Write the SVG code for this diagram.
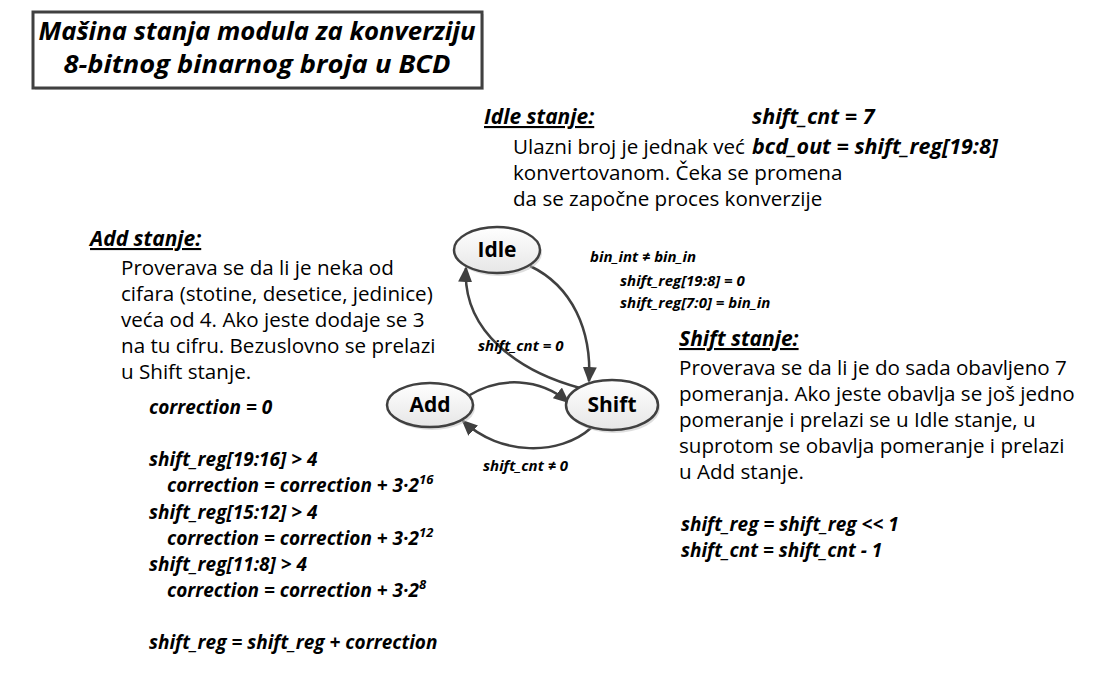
<svg xmlns="http://www.w3.org/2000/svg" width="1096" height="698" viewBox="0 0 1096 698">
<defs>
<linearGradient id="nodeFill" x1="0" y1="0" x2="0" y2="1">
<stop offset="0" stop-color="#ffffff"/>
<stop offset="1" stop-color="#e6e6e6"/>
</linearGradient>
<marker id="arrow" markerUnits="userSpaceOnUse" markerWidth="16" markerHeight="14" refX="14" refY="7" orient="auto">
<path d="M0,0 L16,7 L0,14 z" fill="#404040"/>
</marker>
<style>
text{font-family:"Open Sans","Liberation Sans",sans-serif;fill:#000}
.body{font-size:20.6px}
.hdr{font-size:21px;font-weight:bold;font-style:italic;text-decoration:underline}
.fx{font-size:19px;font-weight:bold;font-style:italic}
.fx2{font-size:21.5px;font-weight:bold;font-style:italic}
.lbl{font-size:15px;font-weight:bold;font-style:italic}
.node ellipse{fill:url(#nodeFill);stroke:#404040;stroke-width:2.5}
.node .sh{fill:#bdbdbd;stroke:none;opacity:0.5}
.node text{font-size:21px;font-weight:bold;text-anchor:middle}
.conn path{fill:none;stroke:#404040;stroke-width:2.5;marker-end:url(#arrow)}
</style>
</defs>
<rect width="1096" height="698" fill="#ffffff"/>

<g id="title">
<rect x="35" y="14" width="449" height="76" fill="#bdbdbd" opacity="0.5"/>
<rect x="33" y="12" width="449" height="76" fill="#ffffff" stroke="#404040" stroke-width="3"/>
<text x="257" y="40" text-anchor="middle" font-size="25" font-weight="bold" font-style="italic" textLength="437" lengthAdjust="spacingAndGlyphs">Mašina stanja modula za konverziju</text>
<text x="257" y="73" text-anchor="middle" font-size="25" font-weight="bold" font-style="italic" textLength="387" lengthAdjust="spacingAndGlyphs">8-bitnog binarnog broja u BCD</text>
</g>

<g id="connectors" class="conn">
<path d="M530,266 C572,286 592,330 589,381"/>
<path d="M580,388 C520,372 462,332 466,268"/>
<path d="M468,396 C500,376 540,378 568,402"/>
<path d="M591,428 C560,456 500,456 463,421"/>
</g>

<g id="node-idle" class="node">
<ellipse class="sh" cx="499" cy="253" rx="43" ry="23"/>
<ellipse cx="497" cy="250" rx="43" ry="23"/>
<text x="497" y="257">Idle</text>
</g>
<g id="node-add" class="node">
<ellipse class="sh" cx="432" cy="408" rx="43" ry="22"/>
<ellipse cx="430" cy="405" rx="43" ry="22"/>
<text x="430" y="412">Add</text>
</g>
<g id="node-shift" class="node">
<ellipse class="sh" cx="614" cy="408" rx="46" ry="25"/>
<ellipse cx="612" cy="405" rx="46" ry="25"/>
<text x="612" y="412">Shift</text>
</g>

<g id="labels">
<text class="lbl" x="590" y="262">bin_int ≠ bin_in</text>
<text class="lbl" x="620" y="286">shift_reg[19:8] = 0</text>
<text class="lbl" x="620" y="308">shift_reg[7:0] = bin_in</text>
<text class="lbl" x="478" y="351">shift_cnt = 0</text>
<text class="lbl" x="483" y="471">shift_cnt ≠ 0</text>
</g>

<g id="idle-desc">
<text class="hdr" x="484" y="124">Idle stanje:</text>
<text class="body" x="513" y="154">Ulazni broj je jednak već</text>
<text class="body" x="513" y="180">konvertovanom. Čeka se promena</text>
<text class="body" x="513" y="206">da se započne proces konverzije</text>
<text class="fx2" x="752" y="124">shift_cnt = 7</text>
<text class="fx2" x="752" y="154">bcd_out = shift_reg[19:8]</text>
</g>

<g id="add-desc">
<text class="hdr" x="90" y="246">Add stanje:</text>
<text class="body" x="121" y="275">Proverava se da li je neka od</text>
<text class="body" x="121" y="301">cifara (stotine, desetice, jedinice)</text>
<text class="body" x="121" y="327">veća od 4. Ako jeste dodaje se 3</text>
<text class="body" x="121" y="353">na tu cifru. Bezuslovno se prelazi</text>
<text class="body" x="121" y="379">u Shift stanje.</text>
<text class="fx" x="149" y="414">correction = 0</text>
<text class="fx" x="149" y="466">shift_reg[19:16] &gt; 4</text>
<text class="fx" x="167" y="492">correction = correction + 3·2<tspan dy="-8" font-size="13">16</tspan></text>
<text class="fx" x="149" y="519">shift_reg[15:12] &gt; 4</text>
<text class="fx" x="167" y="545">correction = correction + 3·2<tspan dy="-8" font-size="13">12</tspan></text>
<text class="fx" x="149" y="571">shift_reg[11:8] &gt; 4</text>
<text class="fx" x="167" y="597">correction = correction + 3·2<tspan dy="-8" font-size="13">8</tspan></text>
<text class="fx" x="149" y="649">shift_reg = shift_reg + correction</text>
</g>

<g id="shift-desc">
<text class="hdr" x="679" y="346">Shift stanje:</text>
<text class="body" x="679" y="375">Proverava se da li je do sada obavljeno 7</text>
<text class="body" x="679" y="401">pomeranja. Ako jeste obavlja se još jedno</text>
<text class="body" x="679" y="427">pomeranje i prelazi se u Idle stanje, u</text>
<text class="body" x="679" y="453">suprotom se obavlja pomeranje i prelazi</text>
<text class="body" x="679" y="479">u Add stanje.</text>
<text class="fx" x="681" y="531">shift_reg = shift_reg &lt;&lt; 1</text>
<text class="fx" x="681" y="557">shift_cnt = shift_cnt - 1</text>
</g>
</svg>
